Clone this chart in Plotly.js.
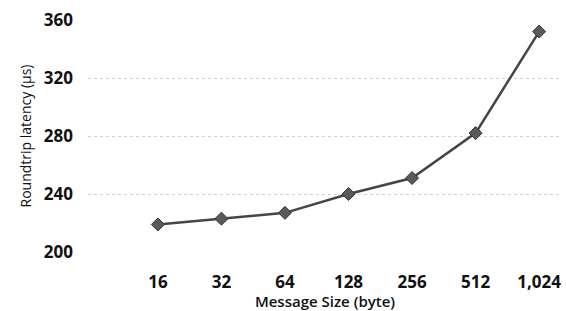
<!DOCTYPE html>
<html><head><meta charset="utf-8">
<script src="https://cdn.plot.ly/plotly-3.0.1.min.js"></script>
<style>html,body{margin:0;padding:0;background:#fff}#c{width:566px;height:311px}</style>
</head><body><div id="c"></div>
<script>
const sizes = ["16","32","64","128","256","512","1,024"];
const latency = [219, 223, 227, 240, 251, 282, 352];
const yTicks = [200, 240, 280, 320, 360];

Plotly.newPlot('c', [{
  x: sizes, y: latency, type: 'scatter', mode: 'lines+markers',
  line: {color: '#454545', width: 2.5},
  marker: {symbol: 'diamond', size: 10, color: '#5a5a5a', line: {color: '#333', width: 1}}
}], {
  width: 566, height: 311,
  margin: {l: 88, r: 4, t: 20, b: 59},
  paper_bgcolor: '#fff', plot_bgcolor: '#fff',
  showlegend: false,
  font: {family: 'Open Sans, sans-serif', color: '#111'},
  xaxis: {
    type: 'category', range: [-1.1, 6.36],
    showgrid: false, zeroline: false, showline: false, ticks: '',
    tickfont: {size: 17, family: 'Open Sans, sans-serif', weight: 'bold'},
    ticklabelstandoff: 18,
    title: {text: 'Message Size (byte)', standoff: 2, font: {size: 15, family: 'Open Sans, sans-serif', weight: 600}}
  },
  yaxis: {
    range: [200, 360], tickvals: yTicks, ticktext: yTicks.map(String),
    showgrid: true, gridcolor: '#d0d0d0', griddash: 'dot', gridwidth: 1,
    zeroline: false, showline: false, ticks: '',
    tickfont: {size: 17, family: 'Open Sans, sans-serif', weight: 'bold'},
    ticklabelstandoff: 14,
    title: {text: 'Roundtrip latency (μs)', standoff: 8, font: {size: 14, family: 'Open Sans, sans-serif'}}
  }
}, {displayModeBar: false, staticPlot: true});
</script></body></html>
